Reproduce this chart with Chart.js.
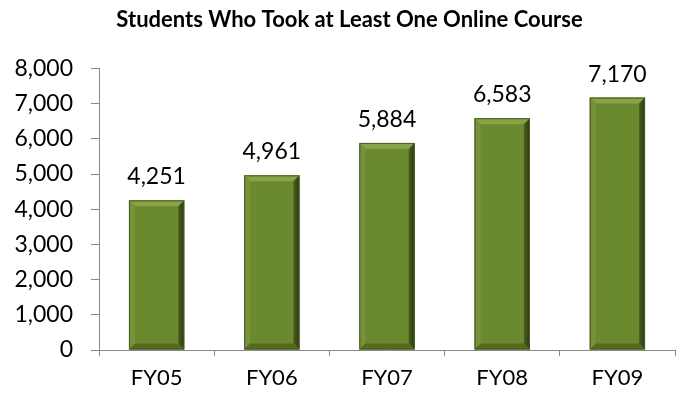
<!DOCTYPE html>
<html>
<head>
<meta charset="utf-8">
<script src="https://cdn.jsdelivr.net/npm/chart.js@4"></script>
<style>
  html,body{margin:0;padding:0;background:#fff;}
  #wrap{width:681px;height:402px;}
</style>
</head>
<body>
<div id="wrap"><canvas id="c" width="681" height="402"></canvas></div>
<script>
// data
const years = ["FY05","FY06","FY07","FY08","FY09"];
const students = [4251, 4961, 5884, 6583, 7170];
const yTicks = [0,1000,2000,3000,4000,5000,6000,7000,8000];

const FONT = "Lato, 'Open Sans', sans-serif";
const fmt = v => v.toLocaleString("en-US");

// bevel look like the excel bars
const bevel = {
  id: "bevel",
  afterDatasetsDraw(chart){
    const ctx = chart.ctx;
    chart.getDatasetMeta(0).data.forEach(bar=>{
      const l = bar.x - bar.width/2, r = bar.x + bar.width/2;
      const t = bar.y, b = bar.base, e = 6;
      ctx.save();
      // top
      ctx.fillStyle = "#88a348";
      ctx.beginPath();ctx.moveTo(l,t);ctx.lineTo(r,t);ctx.lineTo(r-e,t+e);ctx.lineTo(l+e,t+e);ctx.closePath();ctx.fill();
      // left
      ctx.fillStyle = "#76923a";
      ctx.beginPath();ctx.moveTo(l,t);ctx.lineTo(l+e,t+e);ctx.lineTo(l+e,b-e);ctx.lineTo(l,b);ctx.closePath();ctx.fill();
      // right
      const g = ctx.createLinearGradient(r-e,0,r,0);
      g.addColorStop(0,"#4a5f20");g.addColorStop(1,"#2c3810");
      ctx.fillStyle = g;
      ctx.beginPath();ctx.moveTo(r,t);ctx.lineTo(r,b);ctx.lineTo(r-e,b-e);ctx.lineTo(r-e,t+e);ctx.closePath();ctx.fill();
      // bottom
      ctx.fillStyle = "#55691f";
      ctx.beginPath();ctx.moveTo(l,b);ctx.lineTo(r,b);ctx.lineTo(r-e,b-e);ctx.lineTo(l+e,b-e);ctx.closePath();ctx.fill();
      ctx.strokeStyle = "#4a5a25";ctx.lineWidth = 1;
      ctx.strokeRect(l+0.5,t+0.5,r-l-1,b-t-1);
      ctx.restore();
    });
  }
};

// value labels on top
const valueLabels = {
  id: "valueLabels",
  afterDatasetsDraw(chart){
    const ctx = chart.ctx;
    ctx.save();
    ctx.font = "23px " + FONT;
    ctx.fillStyle = "#000";
    ctx.textAlign = "center";
    ctx.textBaseline = "alphabetic";
    chart.getDatasetMeta(0).data.forEach((bar,i)=>{
      ctx.fillText(fmt(students[i]), bar.x, bar.y - 16);
    });
    ctx.restore();
  }
};

// nudge the title a bit to the right, like the original
const titleShift = {
  id: "titleShift",
  afterLayout(chart){
    const tb = chart.titleBlock;
    if(tb){tb.left += 12;tb.right += 12;}
  }
};

new Chart(document.getElementById("c"),{
  type:"bar",
  data:{
    labels: years,
    datasets:[{
      data: students,
      backgroundColor:"#6b8a2e",
      borderWidth:0,
      barPercentage:0.48,
      categoryPercentage:1
    }]
  },
  options:{
    responsive:false,
    animation:false,
    layout:{padding:{top:6,right:6,left:0,bottom:0}},
    plugins:{
      legend:{display:false},
      tooltip:{enabled:false},
      title:{
        display:true,
        text:"Students Who Took at Least One Online Course",
        font:{family:FONT,size:22,weight:"bold"},
        color:"#000",
        padding:{top:1,bottom:35}
      }
    },
    scales:{
      x:{
        grid:{display:true,drawOnChartArea:false,offset:true,tickLength:6,color:"#888"},
        border:{color:"#888",width:1},
        ticks:{font:{family:FONT,size:22},color:"#000",padding:9},
        afterFit(s){s.height = 52;}
      },
      y:{
        min:0,max:8000,
        afterBuildTicks(s){s.ticks = yTicks.map(v=>({value:v}));},
        grid:{display:true,drawOnChartArea:false,tickLength:8,color:"#888"},
        border:{color:"#888",width:1},
        ticks:{font:{family:FONT,size:23},color:"#000",padding:18,callback:v=>fmt(v)},
        afterFit(s){s.width = 99;}
      }
    }
  },
  plugins:[bevel,valueLabels,titleShift]
});
</script>
</body>
</html>
